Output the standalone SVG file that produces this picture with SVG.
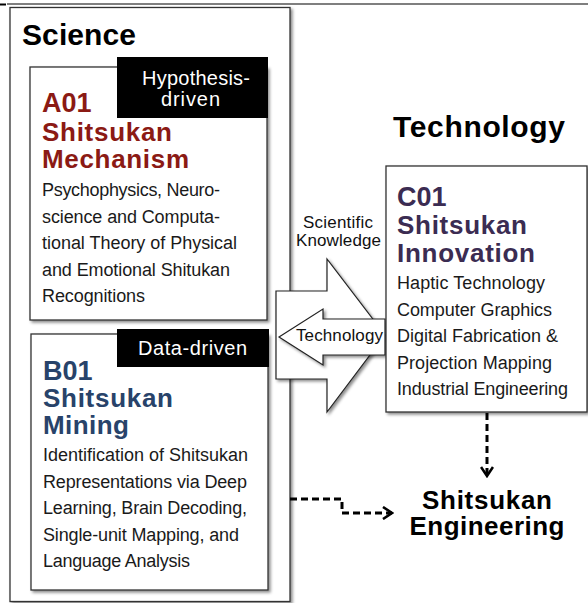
<svg xmlns="http://www.w3.org/2000/svg" width="588" height="603" viewBox="0 0 588 603">
<defs>
<filter id="sh" x="-10%" y="-10%" width="120%" height="120%">
<feDropShadow dx="2" dy="2" stdDeviation="1.5" flood-color="#000" flood-opacity="0.45"/>
</filter>
<marker id="chev" viewBox="0 0 12 14" refX="10" refY="7" markerWidth="12" markerHeight="14" markerUnits="userSpaceOnUse" orient="auto">
<path d="M1,1 L10,7 L1,13" fill="none" stroke="#000" stroke-width="2.6"/>
</marker>
<style>
.box{fill:#fff;stroke:#333;stroke-width:1.3;filter:url(#sh)}
.tag{fill:#000}
.tagt{fill:#fff;font-family:"Liberation Sans",Arial,sans-serif;font-size:20px}
.big{font-family:"Liberation Sans",Arial,sans-serif;font-weight:bold;font-size:30px;fill:#000}
.hd{font-family:"Liberation Sans",Arial,sans-serif;font-weight:bold;font-size:26px}
.id{font-size:27px}
.body{font-family:"Liberation Sans",Arial,sans-serif;font-size:18px;fill:#1a1a1a}
.lbl{font-family:"Liberation Sans",Arial,sans-serif;font-size:17px;fill:#111}
.arr{fill:#fff;stroke:#222;stroke-width:1.2;filter:url(#sh)}
.dash{fill:none;stroke:#000;stroke-width:3;stroke-dasharray:7 4}
.a{fill:#8b1a14}.b{fill:#28436a}.c{fill:#3b2c52}
</style>
</defs>
<rect width="588" height="603" fill="#fff"/>
<line x1="0" y1="4.5" x2="6" y2="4.5" stroke="#000" stroke-width="2"/>
<line x1="7" y1="4" x2="588" y2="4" stroke="#555" stroke-width="1.5"/>

<g id="science">
<rect class="box" x="10" y="7.5" width="280" height="594"/>
<text class="big" x="22" y="45" textLength="114">Science</text>
</g>

<g id="a01">
<rect class="box" x="30" y="67" width="237" height="253"/>
<rect class="tag" x="117" y="57" width="151" height="61"/>
<text class="tagt" x="142" y="85" textLength="108">Hypothesis-</text>
<text class="tagt" x="161" y="106" textLength="59">driven</text>
<text class="hd id a" x="42" y="112">A01</text>
<text class="hd a" x="42" y="141" textLength="130">Shitsukan</text>
<text class="hd a" x="42" y="168" textLength="147">Mechanism</text>
<text class="body" x="42" y="196" textLength="178">Psychophysics, Neuro-</text>
<text class="body" x="42" y="222.5" textLength="178">science and Computa-</text>
<text class="body" x="42" y="249" textLength="195">tional Theory of Physical</text>
<text class="body" x="42" y="275.5" textLength="188">and Emotional Shitukan</text>
<text class="body" x="42" y="302" textLength="103">Recognitions</text>
</g>

<g id="b01">
<rect class="box" x="31" y="334" width="237" height="256"/>
<rect class="tag" x="117" y="329" width="152" height="38"/>
<text class="tagt" x="138" y="355" textLength="109">Data-driven</text>
<text class="hd id b" x="43" y="380">B01</text>
<text class="hd b" x="43" y="407" textLength="130">Shitsukan</text>
<text class="hd b" x="43" y="434" textLength="86">Mining</text>
<text class="body" x="43" y="461" textLength="205">Identification of Shitsukan</text>
<text class="body" x="43" y="487.5" textLength="204">Representations via Deep</text>
<text class="body" x="43" y="514" textLength="204">Learning, Brain Decoding,</text>
<text class="body" x="43" y="540.5" textLength="196">Single-unit Mapping, and</text>
<text class="body" x="43" y="567" textLength="147">Language Analysis</text>
</g>

<g id="connectors">
<polygon class="arr" points="276,291 327,291 327,259 385,335 327,412 327,379 276,379"/>
<polygon class="arr" points="385,319 323,319 323,309 279,337 323,365 323,355 385,355"/>
<text class="lbl" x="296" y="341" textLength="87">Technology</text>
<text class="lbl" x="303" y="228" textLength="70">Scientific</text>
<text class="lbl" x="296" y="245.5" textLength="85">Knowledge</text>
<path class="dash" d="M487,413 V476" marker-end="url(#chev)"/>
<path class="dash" d="M290,499 H342 V513 H392" marker-end="url(#chev)"/>
</g>

<g id="technology">
<text class="big" x="393" y="137" textLength="172">Technology</text>
</g>

<g id="c01">
<rect class="box" x="386" y="166" width="201" height="246"/>
<text class="hd id c" x="397" y="206">C01</text>
<text class="hd c" x="397" y="234" textLength="130">Shitsukan</text>
<text class="hd c" x="397" y="262" textLength="138">Innovation</text>
<text class="body" x="397" y="289" textLength="148">Haptic Technology</text>
<text class="body" x="397" y="315.5" textLength="155">Computer Graphics</text>
<text class="body" x="397" y="342" textLength="161">Digital Fabrication &amp;</text>
<text class="body" x="397" y="368.5" textLength="155">Projection Mapping</text>
<text class="body" x="397" y="395" textLength="171">Industrial Engineering</text>
</g>

<g id="engineering">
<text class="hd" x="487" y="509" text-anchor="middle" textLength="130">Shitsukan</text>
<text class="hd" x="487" y="535" text-anchor="middle" textLength="155">Engineering</text>
</g>
</svg>
